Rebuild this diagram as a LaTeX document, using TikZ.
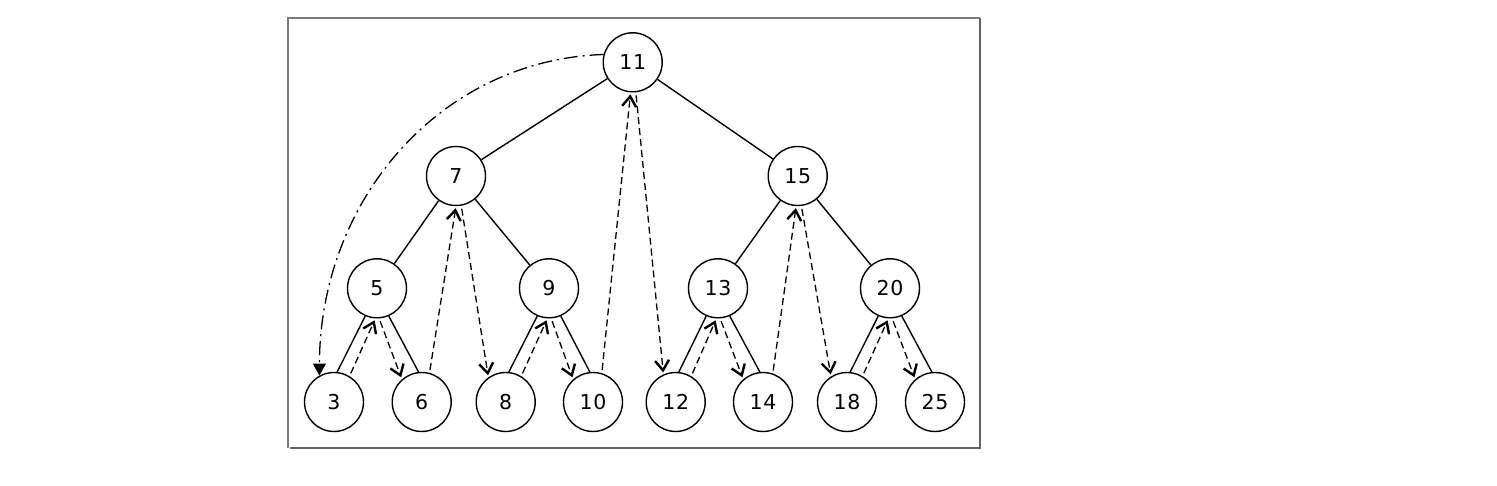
\documentclass[tikz,border=0pt]{standalone}
\usepackage{fontspec}
\setmainfont{DejaVu Sans}[LetterSpace=4]
\usetikzlibrary{arrows.meta}
\definecolor{framegray}{HTML}{7A7A7A}
\begin{document}
\begin{tikzpicture}[x=1pt,y=-1pt,
  tn/.style={circle,draw,line width=1.4pt,minimum size=59pt,inner sep=0pt,
    font=\fontsize{20.5}{24}\selectfont},
  tedge/.style={line width=1.4pt},
  thread/.style={line width=1.3pt,dash pattern=on 7pt off 4pt,
    -{Straight Barb[length=10pt,width=14pt,line width=2.4pt]},
    shorten <=3pt,shorten >=2pt},
  backlink/.style={line width=1.3pt,dash pattern=on 14pt off 5pt on 2pt off 5pt,
    -{Triangle[length=12pt,width=13pt]}}
]
\useasboundingbox (0,0) rectangle (1497,486);
% frame
\coordinate (fTL) at (288,18);
\coordinate (fTR) at (980,18);
\coordinate (fBL) at (288,448);
\coordinate (fBR) at (980,448);
\draw[framegray,line width=1.3pt] (fBL) -- (fTL) -- (fTR);
\draw[framegray!80!black,line width=2.4pt] (fTR) -- (fBR) -- ([xshift=1.5pt]fBL);

% nodes
\node[tn] (n11) at (632.7,62.3) {11};
\node[tn] (n7)  at (456,176) {7};
\node[tn] (n15) at (797.7,176) {15};
\node[tn] (n5)  at (377,288.3) {5};
\node[tn] (n9)  at (549,288.3) {9};
\node[tn] (n13) at (718,288.3) {13};
\node[tn] (n20) at (890,288.3) {20};
\node[tn] (n3)  at (334,402) {3};
\node[tn] (n6)  at (421.7,402) {6};
\node[tn] (n8)  at (505.7,402) {8};
\node[tn] (n10) at (593,402) {10};
\node[tn] (n12) at (675.7,402) {12};
\node[tn] (n14) at (763,402) {14};
\node[tn] (n18) at (847,402) {18};
\node[tn] (n25) at (935,402) {25};

% tree edges
\draw[tedge] (n11) -- (n7);
\draw[tedge] (n11) -- (n15);
\draw[tedge] (n7) -- (n5);
\draw[tedge] (n7) -- (n9);
\draw[tedge] (n15) -- (n13);
\draw[tedge] (n15) -- (n20);
\foreach \p/\l/\r in {n5/n3/n6, n9/n8/n10, n13/n12/n14, n20/n18/n25}{
  \draw[tedge] (\p.247) -- (\l.84);
  \draw[tedge] (\p.293) -- (\r.96);
}

% threads (in-order)
\foreach \p/\l/\r in {n5/n3/n6, n9/n8/n10, n13/n12/n14, n20/n18/n25}{
  \draw[thread] (\l.59) -- (\p.267);
  \draw[thread] (\p.274) -- (\r.131);
}
\draw[thread] (n6.75) -- (n7.270);
\draw[thread] (n7.280) -- (n8.125);
\draw[thread] (n10.73) -- (n11.266);
\draw[thread] (n11.276) -- (n12.114);
\draw[thread] (n14.71) -- (n15.267);
\draw[thread] (n15.277) -- (n18.122);

% back link
\draw[backlink] (n11.165) .. controls (440,60) and (320,200) .. (n3.119);
\end{tikzpicture}
\end{document}
